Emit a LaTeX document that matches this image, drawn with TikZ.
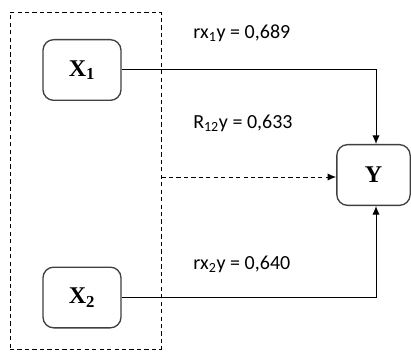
\documentclass[tikz,border=0pt]{standalone}
\usepackage{fontspec}
\setmainfont{Liberation Serif}
\newfontfamily\lblfont{Carlito}
\usetikzlibrary{arrows.meta,calc}
\tikzset{
  varbox/.style={draw=black!75, line width=1pt, rounded corners=8pt, fill=white,
    minimum width=58.5pt, minimum height=45.5pt, inner sep=0pt,
    font=\fontsize{18}{20}\selectfont\bfseries},
  grpbox/.style={draw=black, line width=0.6pt, dash pattern=on 3.2pt off 2.4pt,
    minimum width=113.25pt, minimum height=252.75pt, inner sep=0pt},
  conn/.style={draw=black, line width=0.75pt, -{Latex[length=6.5pt,width=5.5pt]}},
  lbl/.style={anchor=west, inner sep=0pt, font=\lblfont\fontsize{15}{17}\selectfont}
}
\begin{document}
\begin{tikzpicture}[x=0.75pt,y=-0.75pt]
\useasboundingbox (0,0) rectangle (411,353);
\node[grpbox] (grp) at (85.5,180.5) {};
\node[varbox] (X1) at (82,70) {X\textsubscript{1}};
\node[varbox] (X2) at (82,297.5) {X\textsubscript{2}};
\node[varbox, minimum width=55pt] (Y) at (373.5,175) {Y};
\coordinate (Yt) at ($(Y.north)+(2.5,0)$);
\coordinate (Yb) at ($(Y.south)+(2.5,0)$);
\coordinate (G) at (grp.east |- 0,177);
\coordinate (Yw) at (Y.west |- 0,177);
\draw[conn] (X1.east) -| (Yt);
\draw[conn] (X2.east) -| (Yb);
\draw[conn, dash pattern=on 3.2pt off 2.4pt] (G) -- (Yw);
\node[lbl] (L1) at (193,33) {rx\textsubscript{1}y = 0,689};
\node[lbl] (L2) at (193,123) {R\textsubscript{12}y = 0,633};
\node[lbl] (L3) at (193,264) {rx\textsubscript{2}y = 0,640};
\end{tikzpicture}
\end{document}
